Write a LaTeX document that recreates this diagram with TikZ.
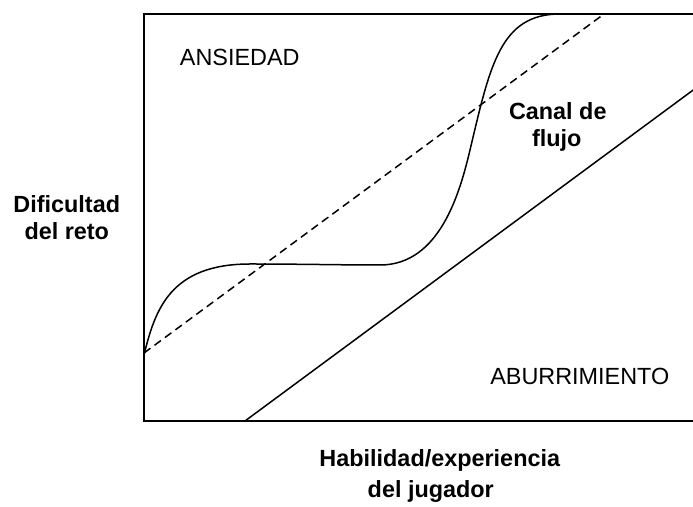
\documentclass[tikz,border=0pt]{standalone}
\usepackage{fontspec}
\setmainfont{Liberation Sans}

\begin{document}
\begin{tikzpicture}[x=0.5pt,y=-0.5pt]
	\def \fs{ \fontsize{11.7}{14}\selectfont };
	\useasboundingbox (0,0) rectangle (693,507);
	% frame of the chart
	\coordinate (tr) at (700,14);
	\coordinate (tl) at (144,14);
	\coordinate (bl) at (144,421);
	\coordinate (br) at (700,421);
	\draw[line width=1pt] (tr) -- (tl) -- (bl) -- (br);
	% lines
	\coordinate (d0) at (144,353);
	\coordinate (d1) at (604,14);
	\coordinate (s0) at (245,421);
	\coordinate (s1) at (700,85);
	\coordinate (c0) at (144,355);
	\coordinate (c1) at (250,264);
	\coordinate (c2) at (380,265);
	\coordinate (c3) at (470,150);
	\coordinate (c4) at (560,14);
	\draw[line width=0.75pt, dash pattern=on 4pt off 2.5pt] (d0) -- (d1);
	\draw[line width=0.75pt] (s0) -- (s1);
	\draw[line width=0.75pt] (c0) .. controls (155,310) and (170,264) .. (c1)
		.. controls (300,264) and (340,265) .. (c2)
		.. controls (440,265) and (460,192) .. (c3)
		.. controls (490,66) and (500,14) .. (c4) -- (d1);
	% texts
	\node[anchor=base, font=\fs] (ans) at (237,66) {ANSIEDAD};
	\node[anchor=base, font=\fs] (abu) at (577,385) {ABURRIMIENTO};
	\node[anchor=base, font=\fs\bfseries] (can1) at (555,120) {Canal de};
	\node[anchor=base, font=\fs\bfseries] (can2) at (554,147) {flujo};
	\node[anchor=base, font=\fs\bfseries] (dif1) at (64,213) {Dificultad};
	\node[anchor=base, font=\fs\bfseries] (dif2) at (64,240) {del reto};
	\node[anchor=base, font=\fs\bfseries] (hab1) at (437,467) {Habilidad/experiencia};
	\node[anchor=base, font=\fs\bfseries] (hab2) at (428,498) {del jugador};
\end{tikzpicture}
\end{document}
